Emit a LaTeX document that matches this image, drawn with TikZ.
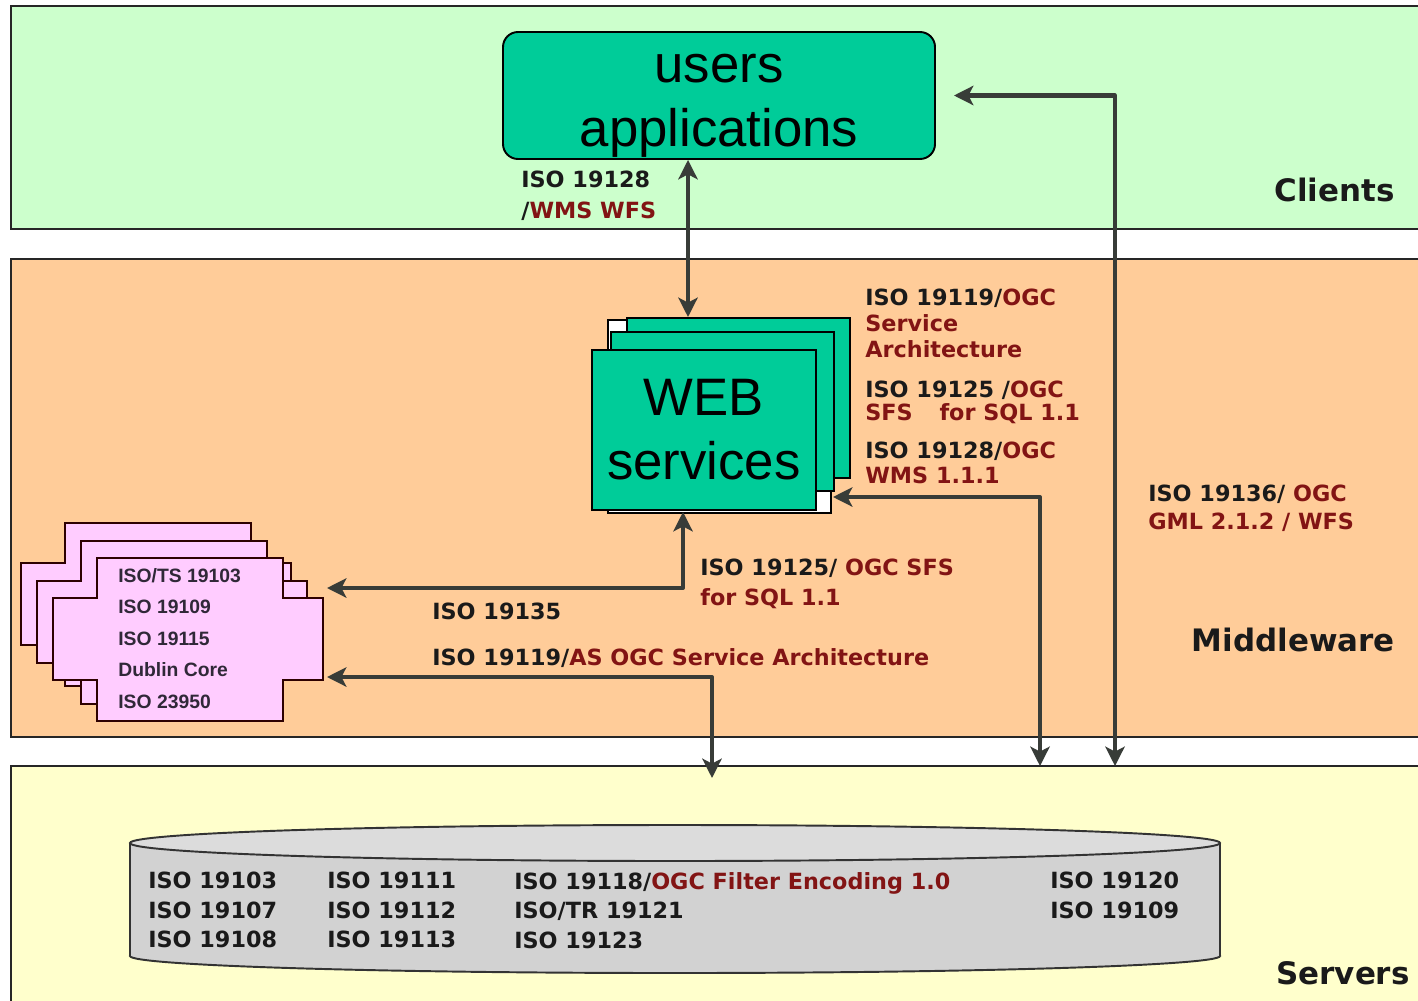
\documentclass[tikz,border=0pt]{standalone}
\usepackage{fontspec}
\usepackage{xcolor}
\usepackage{tikz}
\usetikzlibrary{arrows.meta, positioning}
\newfontfamily\arialfont{Liberation Sans}
\newfontfamily\tahomafont{DejaVu Sans}

\definecolor{clientgreen}{HTML}{CCFFCC}
\definecolor{middlepeach}{HTML}{FFCC99}
\definecolor{serveryellow}{HTML}{FFFFCC}
\definecolor{boxgreen}{HTML}{00CC99}
\definecolor{docpink}{HTML}{FFCCFF}
\definecolor{docgrey}{HTML}{302838}
\definecolor{isored}{RGB}{130,20,20}
\definecolor{isoblack}{HTML}{1A1A1A}
\definecolor{linkgrey}{HTML}{383C38}
\definecolor{dbgrey}{HTML}{D2D2D2}
\definecolor{dbtopgrey}{HTML}{DCDCDC}

\newcommand{\ogc}[1]{\textcolor{isored}{#1}}

\tikzset{
    x=0.2mm, y=-0.2mm, % one unit = one pixel of the original figure
    >={Stealth[length=11pt,width=11pt,inset=2.8pt]}, % arrow heads of the links
    tier/.style={draw=black!85, line width=1.1pt}, % the three horizontal bands
    bigbox/.style={draw=black, line width=1.1pt, fill=boxgreen, align=center, inner sep=0pt,
        font=\arialfont\fontsize{30}{36.5}\selectfont},
    sheet/.style={draw=black, line width=1pt, fill=boxgreen, anchor=north west, inner sep=0pt},
    isolabel/.style={font=\tahomafont\bfseries\fontsize{12.7}{#1}\selectfont, text=isoblack,
        align=left, anchor=north west, inner sep=0pt},
    isolabel/.default=17,
    tierlabel/.style={font=\tahomafont\bfseries\fontsize{17.6}{20}\selectfont, text=isoblack,
        anchor=east, inner sep=0pt},
    doctext/.style={font=\arialfont\bfseries\fontsize{11}{17.9}\selectfont, text=docgrey,
        align=left, anchor=north west, inner sep=0pt},
    dbline/.style={draw=black!80, line width=1.1pt},
    link/.style={draw=linkgrey, line width=2.3pt, line join=round, <->},
    docsheet/.pic={
        \draw[draw=black!70!red!60!black, line width=1pt, fill=docpink]
            (0,0) -- (186,0) -- (186,40) -- (226,40) -- (226,122) -- (186,122) -- (186,163)
            -- (0,163) -- (0,122) -- (-44,122) -- (-44,40) -- (0,40) -- cycle;
    },
}

\begin{document}
\begin{tikzpicture}
        \useasboundingbox[fill=white] (0,0) rectangle (1418,1000);

        % tiers
        \draw[tier, fill=clientgreen] (11,6) rectangle (1440,229);
        \draw[tier, fill=middlepeach] (11,259) rectangle (1440,737);
        \draw[tier, fill=serveryellow] (11,766) rectangle (1440,1020);
        \node[tierlabel] (clients) at (1395,190) {Clients};
        \node[tierlabel] (middleware) at (1395,640) {Middleware};
        \node[tierlabel] (servers) at (1410,973) {Servers};

        % clients
        \node[bigbox, rounded corners=3mm, minimum width=86.4mm, minimum height=25.4mm, text depth=0pt]
            (users) at (719,95.5) {\vphantom{l}users\\applications};

        % web services stack
        \node[sheet, fill=white, minimum width=44.6mm, minimum height=38.6mm] (webback) at (607,319) {};
        \node[sheet, minimum width=44.6mm, minimum height=32mm] (web1) at (626,317) {};
        \node[sheet, minimum width=44.6mm, minimum height=31.8mm] (web2) at (610,331) {};
        \node[sheet, bigbox, minimum width=44.8mm, minimum height=32mm] (web) at (591,349) {WEB\\services};

        % metadata sheets
        \pic at (65,523) {docsheet};
        \pic at (81,541) {docsheet};
        \pic at (97,558) {docsheet};
        \node[doctext] (docs) at (118,568) {ISO/TS 19103\\ISO 19109\\ISO 19115\\Dublin Core\\ISO 23950};

        % database
        \draw[dbline, fill=dbgrey] (675,956) ellipse [x radius=545, y radius=17];
        \fill[dbgrey] (130,843) rectangle (1220,956);
        \draw[dbline] (130,843) -- (130,956) (1220,843) -- (1220,956);
        \draw[dbline, fill=dbtopgrey] (675,843) ellipse [x radius=545, y radius=18];
        \node[isolabel=16.7] (db1) at (148,872) {ISO 19103\\ISO 19107\\ISO 19108};
        \node[isolabel=16.7] (db2) at (327,872) {ISO 19111\\ISO 19112\\ISO 19113};
        \node[isolabel=16.7] (db3) at (514,872) {ISO 19118/\ogc{OGC Filter Encoding 1.0}\\ISO/TR 19121\\ISO 19123};
        \node[isolabel=16.7] (db4) at (1050,872) {ISO 19120\\ISO 19109};

        % standards along the links
        \node[isolabel=17.6] (wmswfs) at (521,171) {ISO 19128\\/\ogc{WMS WFS}};
        \node[isolabel=14.7] (servarch) at (865,289) {ISO 19119/\ogc{OGC}\\\ogc{Service}\\\ogc{Architecture}};
        \node[isolabel=13] (sfs) at (865,381) {ISO 19125 /\ogc{OGC}\\\ogc{SFS\hspace{1.2em}for SQL 1.1}};
        \node[isolabel=14.2] (wms) at (865,442) {ISO 19128/\ogc{OGC}\\\ogc{WMS 1.1.1}};
        \node[isolabel=15.9] (gml) at (1148,485) {ISO 19136/ \ogc{OGC}\\\ogc{GML 2.1.2 / WFS}};
        \node[isolabel=17] (sfssql) at (700,559) {ISO 19125/ \ogc{OGC SFS}\\\ogc{for SQL 1.1}};
        \node[isolabel] (catalog) at (432,603) {ISO 19135};
        \node[isolabel] (servas) at (432,648) {ISO 19119/\ogc{AS OGC Service Architecture}};

        % link ends
        \coordinate (webtop) at (688,317);
        \coordinate (webright) at (833,497);
        \coordinate (webbottom) at (683,512);
        \coordinate (docsup) at (327,588);
        \coordinate (docslow) at (327,677);
        \coordinate (srvleft) at (712,778);
        \coordinate (srvmid) at (1040,766);
        \coordinate (srvright) at (1115,766);

        % links
        \draw[link] (users.south -| webtop) -- (webtop);
        \draw[link] (srvright) |- ([xshift=3.6mm]users.east);
        \draw[link] (webright) -| (srvmid);
        \draw[link] (webbottom) |- (docsup);
        \draw[link] (docslow) -| (srvleft);
\end{tikzpicture}
\end{document}
